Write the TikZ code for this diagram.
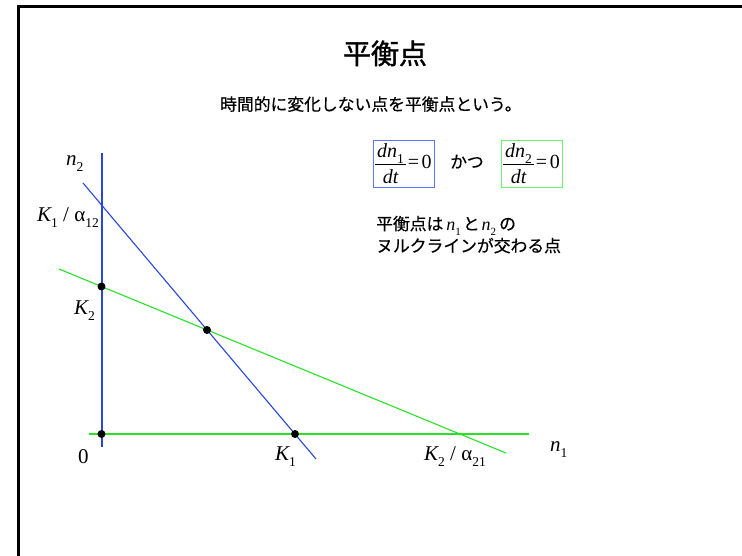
\documentclass[tikz,border=0pt]{standalone}
\usepackage{fontspec}
\setmainfont{Liberation Serif}
\newfontfamily\jp[FakeBold=0.4]{Noto Sans CJK JP}
\newfontfamily\jpt[FakeBold=1.2]{Noto Sans CJK JP}
\newfontfamily\tms{Liberation Serif}
\definecolor{lblue}{RGB}{40,70,225}
\definecolor{lgreen}{RGB}{40,225,40}
\definecolor{bblue}{RGB}{90,120,255}
\definecolor{bgreen}{RGB}{110,240,110}
\newcommand\sbs[1]{\raisebox{-0.3em}{\fontsize{13.5}{15}\selectfont\tms #1}}
\newcommand\ssbs[1]{\raisebox{-0.3em}{\fontsize{11}{12}\selectfont\tms #1}}
\newcommand\frc[1]{{\renewcommand\arraystretch{0}\begin{tabular}{@{\hspace{2pt}}c@{\hspace{2pt}}}{\itshape dn}\sbs{#1}\rule[-6pt]{0pt}{6pt}\\\hline\rule{0pt}{19pt}{\itshape dt}\end{tabular}}\hspace{2pt}{=}\hspace{2.5pt}0}
\tikzset{
 axisb/.style={draw=lblue, line width=2pt},
 axisg/.style={draw=lgreen, line width=2pt},
 nullb/.style={draw=lblue, line width=1.1pt},
 nullg/.style={draw=lgreen, line width=1.1pt},
 eqdot/.style={circle, fill=black, inner sep=0pt, minimum size=8pt},
 lab/.style={anchor=base west, inner sep=0pt, font=\tms\fontsize{21}{24}\selectfont},
 jtxt/.style={anchor=base west, inner sep=0pt, font=\jp\fontsize{16.8}{22}\selectfont},
 eqbox/.style={draw, line width=1pt, minimum width=61pt, minimum height=47pt, inner sep=0pt, font=\tms\fontsize{20}{22}\selectfont},
}
\begin{document}
\begin{tikzpicture}[x=1pt,y=-1pt]
\useasboundingbox (0,0) rectangle (742,555);
\clip (0,0) rectangle (742,555);
\fill[white] (0,0) rectangle (742,555);
% frame
\draw[line width=3pt] (18.5,600) -- (18.5,6.5) -- (800,6.5);
% title
\node[anchor=base, inner sep=0pt, font=\jpt\fontsize{28}{30}\selectfont] (title) at (385,64) {平衡点};
\node[jtxt] (sub) at (220,110.5) {時間的に変化しない点を平衡点という。};
% equations
\node[eqbox, draw=bblue] (f1) at (403.5,163.5) {\frc{1}};
\node[jtxt] (katsu) at (450,168) {かつ};
\node[eqbox, draw=bgreen] (f2) at (531.5,163.5) {\frc{2}};
\node[jtxt] (l1) at (376,230) {平衡点は\hspace{3pt}{\tms\itshape\fontsize{18}{18}\selectfont n}\ssbs{1}\hspace{2pt}と\hspace{2pt}{\tms\itshape\fontsize{18}{18}\selectfont n}\ssbs{2}\hspace{3pt}の};
\node[jtxt] (l2) at (376,252) {ヌルクラインが交わる点};
% geometry
\coordinate (vt) at (101.5,153);
\coordinate (vb) at (101.5,447);
\coordinate (hl) at (89,434);
\coordinate (hr) at (529,434);
\coordinate (bt) at (83,183);
\coordinate (bb) at (316,459);
\coordinate (gt) at (59,269);
\coordinate (gb) at (506,453);
\draw[axisb] (vt) -- (vb);
\draw[axisg] (hl) -- (hr);
\draw[nullg] (gt) -- (gb);
\draw[nullb] (bt) -- (bb);
\node[eqdot] (d1) at (101.5,286.5) {};
\node[eqdot] (d2) at (207,330) {};
\node[eqdot] (d3) at (101.5,434) {};
\node[eqdot] (d4) at (295,434) {};
% labels
\node[lab] (ln2) at (66,165) {{\itshape n}\sbs{2}};
\node[lab] (lk1a) at (37,221) {{\itshape K}\sbs{1} / α\sbs{12}};
\node[lab] (lk2) at (74,314) {{\itshape K}\sbs{2}};
\node[lab] (l0) at (78,463) {0};
\node[lab] (lk1) at (275,460) {{\itshape K}\sbs{1}};
\node[lab] (lk2a) at (424,460) {{\itshape K}\sbs{2} / α\sbs{21}};
\node[lab] (ln1) at (550,451) {{\itshape n}\sbs{1}};
\end{tikzpicture}
\end{document}
